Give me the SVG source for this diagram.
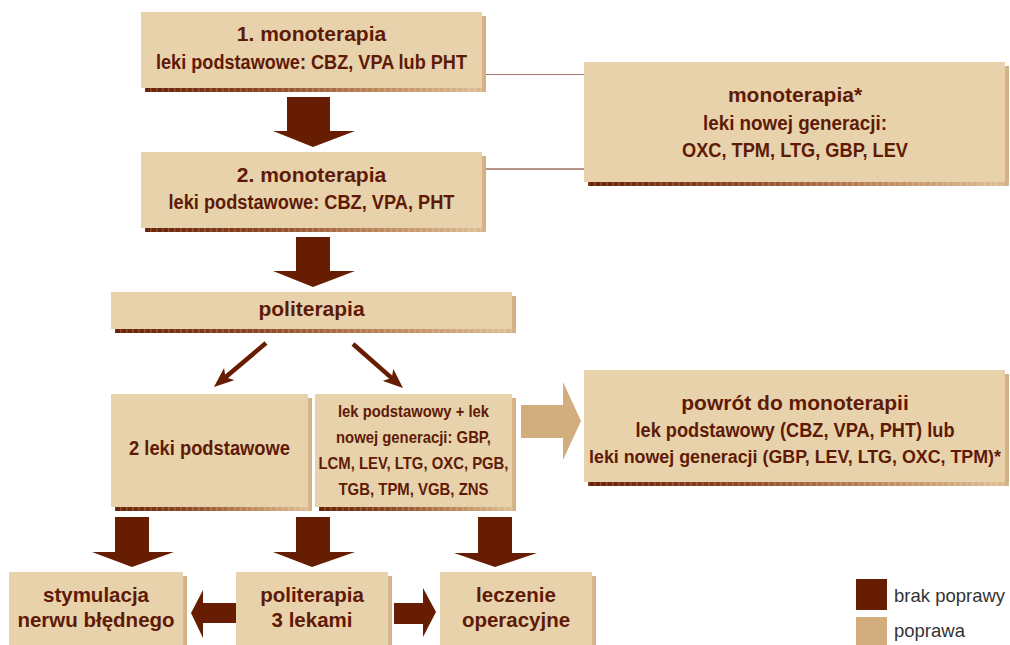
<svg xmlns="http://www.w3.org/2000/svg" width="1010" height="645" viewBox="0 0 1010 645">
<defs>
<linearGradient id="sh" x1="0" y1="0" x2="1" y2="0">
<stop offset="0" stop-color="#6a2206"/>
<stop offset="0.35" stop-color="#8c4622"/>
<stop offset="0.7" stop-color="#c08a5c"/>
<stop offset="0.97" stop-color="#dcbc92"/>
<stop offset="1" stop-color="#d4ae80"/>
</linearGradient>
<pattern id="str" width="6" height="4" patternUnits="userSpaceOnUse">
<rect x="0" y="0" width="1.5" height="4" fill="#ffffff" fill-opacity="0.18"/>
</pattern>
<marker id="ah" viewBox="0 0 20 16" refX="10" refY="8" markerWidth="20" markerHeight="16" markerUnits="userSpaceOnUse" orient="auto">
<path d="M0,0 L20,8 L0,16 L5,8 Z" fill="#661d01"/>
</marker>
<style>
.box{fill:#e8d2ab}
.sh{fill:url(#sh)}
.st{fill:url(#str)}
.h{font-family:"Liberation Sans",Arial,sans-serif;font-weight:bold;font-size:21px;fill:#5e1a06;text-anchor:middle}
.s{font-family:"Liberation Sans",Arial,sans-serif;font-weight:bold;font-size:19.5px;fill:#5e1a06;text-anchor:middle}
.r{font-family:"Liberation Sans",Arial,sans-serif;font-weight:bold;font-size:17px;fill:#5e1a06;text-anchor:middle}
.b{font-family:"Liberation Sans",Arial,sans-serif;font-weight:bold;font-size:20.5px;fill:#5e1a06;text-anchor:middle}
.lg{font-family:"Liberation Sans",Arial,sans-serif;font-size:18.5px;fill:#333333}
.dark{fill:#661d01}
.light{fill:#d2ae7e}
</style>
</defs>
<rect width="1010" height="645" fill="#ffffff"/>

<g id="connectors">
<line x1="486" y1="74.5" x2="584" y2="74.5" stroke="#a57565" stroke-width="1.2"/>
<line x1="486" y1="169" x2="584" y2="169" stroke="#6e2a18" stroke-width="1.2"/>
<polygon class="dark" points="287,97 330,97 330,131 355,131 313,147 273,131 287,131"/>
<polygon class="dark" points="296,237 330,237 330,271 355,271 313,287 273,271 296,271"/>
<line x1="266" y1="343" x2="221.6" y2="380.5" stroke="#661d01" stroke-width="4.5" marker-end="url(#ah)"/>
<line x1="353" y1="344" x2="395.5" y2="381.4" stroke="#661d01" stroke-width="4.5" marker-end="url(#ah)"/>
<polygon class="light" points="521,405 563,405 563,382 581,421 563,460 563,438 521,438"/>
<polygon class="dark" points="115,517 149,517 149,552 174,552 132,567 92,552 115,552"/>
<polygon class="dark" points="296,517 330,517 330,552 355,552 312,567 273,552 296,552"/>
<polygon class="dark" points="478,517 512,517 512,553 537,553 495,567 454,553 478,553"/>
<polygon class="dark" points="236,603 203,603 203,590 191,613 203,638 203,623 236,623"/>
<polygon class="dark" points="394,603 423,603 423,588 436,612 423,637 423,624 394,624"/>
</g>

<g id="n1">
<rect class="sh" x="145" y="16" width="341" height="76"/>
<rect class="st" x="145" y="88" width="341" height="4"/>
<rect class="box" x="141" y="12" width="341" height="76"/>
<text class="h" x="311.5" y="41">1. monoterapia</text>
<text class="s" x="311.5" y="69" textLength="311" lengthAdjust="spacingAndGlyphs">leki podstawowe: CBZ, VPA lub PHT</text>
</g>

<g id="n2">
<rect class="sh" x="145" y="156" width="341" height="76"/>
<rect class="st" x="145" y="228" width="341" height="4"/>
<rect class="box" x="141" y="152" width="341" height="76"/>
<text class="h" x="311.5" y="182">2. monoterapia</text>
<text class="s" x="311.5" y="209" textLength="286" lengthAdjust="spacingAndGlyphs">leki podstawowe: CBZ, VPA, PHT</text>
</g>

<g id="n3">
<rect class="sh" x="588" y="66" width="421" height="120"/>
<rect class="st" x="588" y="182" width="421" height="4"/>
<rect class="box" x="584" y="62" width="421" height="120"/>
<text class="h" x="795" y="102">monoterapia*</text>
<text class="s" x="795" y="130" textLength="184" lengthAdjust="spacingAndGlyphs">leki nowej generacji:</text>
<text class="s" x="795" y="157" textLength="226" lengthAdjust="spacingAndGlyphs">OXC, TPM, LTG, GBP, LEV</text>
</g>

<g id="n4">
<rect class="sh" x="115" y="296" width="401" height="37"/>
<rect class="st" x="115" y="329" width="401" height="4"/>
<rect class="box" x="111" y="292" width="401" height="37"/>
<text class="h" x="311.5" y="316">politerapia</text>
</g>

<g id="n5">
<rect class="sh" x="115" y="398" width="197" height="113"/>
<rect class="st" x="115" y="507" width="197" height="4"/>
<rect class="box" x="111" y="394" width="197" height="113"/>
<text class="s" x="209.5" y="455" textLength="161" lengthAdjust="spacingAndGlyphs">2 leki podstawowe</text>
</g>

<g id="n6">
<rect class="sh" x="319" y="398" width="197" height="113"/>
<rect class="st" x="319" y="507" width="197" height="4"/>
<rect class="box" x="315" y="394" width="197" height="113"/>
<text class="r" x="413.5" y="416.5" textLength="151" lengthAdjust="spacingAndGlyphs">lek podstawowy + lek</text>
<text class="r" x="413.5" y="442.5" textLength="155" lengthAdjust="spacingAndGlyphs">nowej generacji: GBP,</text>
<text class="r" x="413.5" y="468.5" textLength="190" lengthAdjust="spacingAndGlyphs">LCM, LEV, LTG, OXC, PGB,</text>
<text class="r" x="413.5" y="494.5" textLength="150" lengthAdjust="spacingAndGlyphs">TGB, TPM, VGB, ZNS</text>
</g>

<g id="n7">
<rect class="sh" x="588" y="374" width="421" height="112"/>
<rect class="st" x="588" y="482" width="421" height="4"/>
<rect class="box" x="584" y="370" width="421" height="112"/>
<text class="h" x="795" y="410">powrót do monoterapii</text>
<text class="s" x="795" y="437" textLength="319" lengthAdjust="spacingAndGlyphs">lek podstawowy (CBZ, VPA, PHT) lub</text>
<text class="s" x="795" y="463" style="font-size:17.5px" textLength="412" lengthAdjust="spacingAndGlyphs">leki nowej generacji (GBP, LEV, LTG, OXC, TPM)*</text>
</g>

<g id="n8">
<rect class="sh" x="13" y="576" width="174" height="80"/>
<rect class="box" x="9" y="572" width="174" height="80"/>
<text class="b" x="96" y="602">stymulacja</text>
<text class="b" x="96" y="627">nerwu błędnego</text>
</g>

<g id="n9">
<rect class="sh" x="240" y="576" width="152" height="80"/>
<rect class="box" x="236" y="572" width="152" height="80"/>
<text class="b" x="312" y="602">politerapia</text>
<text class="b" x="312" y="627">3 lekami</text>
</g>

<g id="n10">
<rect class="sh" x="444" y="576" width="152" height="80"/>
<rect class="box" x="440" y="572" width="152" height="80"/>
<text class="b" x="516" y="602">leczenie</text>
<text class="b" x="516" y="627">operacyjne</text>
</g>

<g id="legend">
<rect class="dark" x="856" y="579" width="31" height="31"/>
<text class="lg" x="894" y="602">brak poprawy</text>
<rect class="light" x="856" y="617" width="31" height="28"/>
<text class="lg" x="894" y="637">poprawa</text>
</g>
</svg>
